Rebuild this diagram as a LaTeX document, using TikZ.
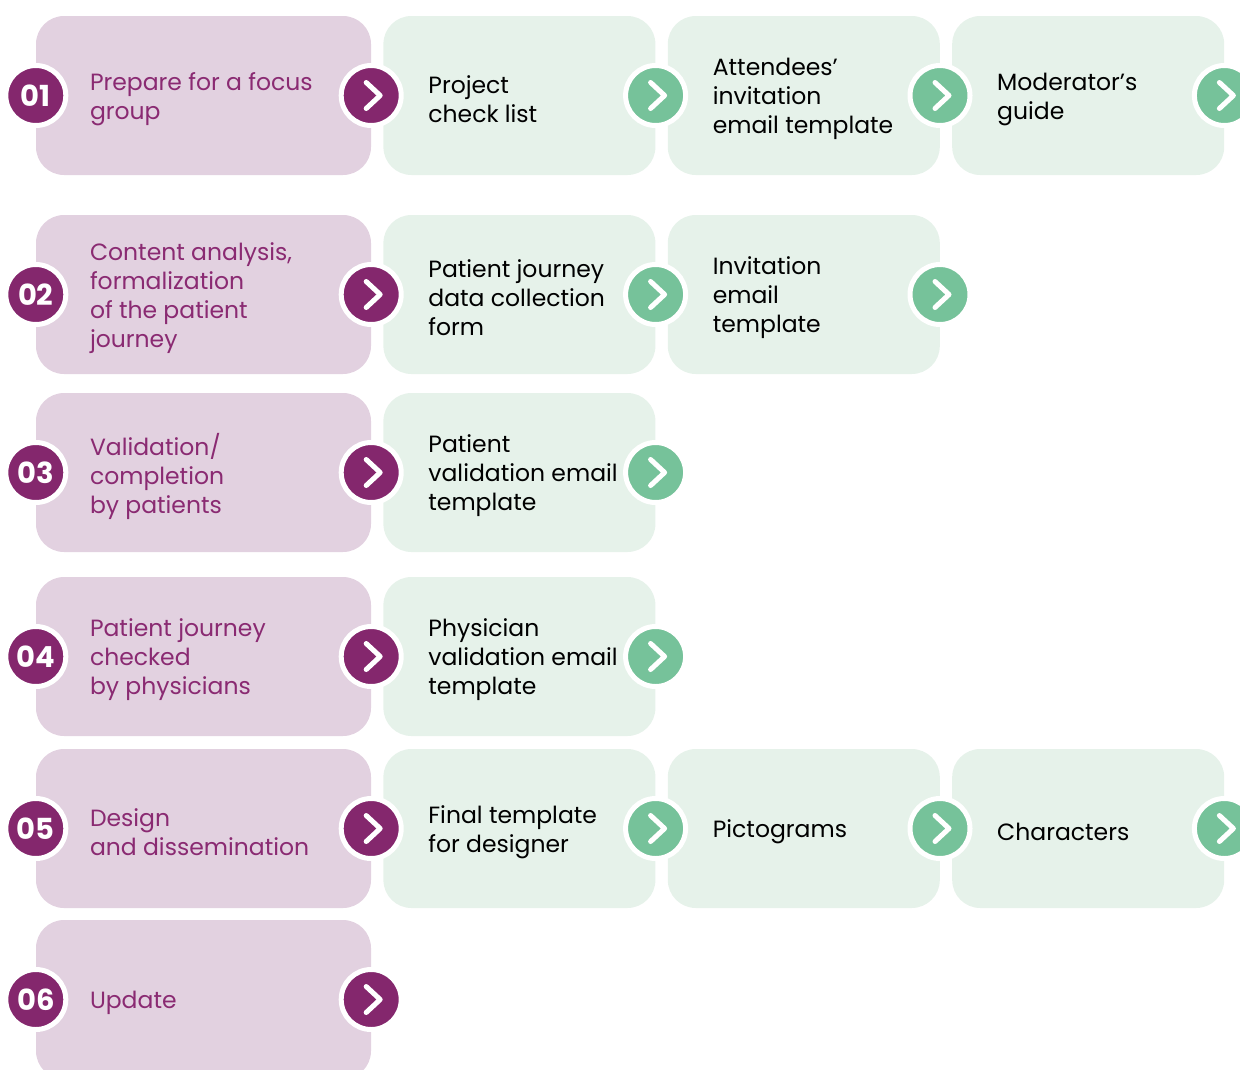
\documentclass[tikz,border=0pt]{standalone}
\usepackage{fontspec}
\setmainfont{Poppins}
\usetikzlibrary{positioning}
\definecolor{plum}{HTML}{84276D}
\definecolor{plumtext}{HTML}{8A2A72}
\definecolor{plumlight}{HTML}{E2D1E0}
\definecolor{mint}{HTML}{76C29A}
\definecolor{mintlight}{HTML}{E6F2EA}
\tikzset{
  stepbox/.style={rectangle, rounded corners=28pt, fill=plumlight, minimum width=335pt, minimum height=159pt, inner sep=0pt},
  docbox/.style={rectangle, rounded corners=28pt, fill=mintlight, minimum width=272pt, minimum height=159pt, inner sep=0pt},
  steptext/.style={align=left, inner sep=0pt, yshift=-3.5pt, text=plumtext, font=\fontsize{23.5}{29}\selectfont},
  doctext/.style={align=left, inner sep=0pt, yshift=-3.5pt, text=black, font=\fontsize{23.5}{29}\selectfont},
  numbadge/.style={circle, fill=plum, draw=white, line width=5pt, minimum size=60pt, inner sep=0pt, text=white, font=\fontsize{29}{29}\selectfont\bfseries},
  chevron/.style={path picture={\draw[white, line width=5pt, line cap=round, line join=round]
      ([shift={(-5pt,13pt)}]path picture bounding box.center) --
      ([shift={(9pt,0pt)}]path picture bounding box.center) --
      ([shift={(-5pt,-13pt)}]path picture bounding box.center);}},
  gostep/.style={circle, fill=plum, draw=white, line width=5pt, minimum size=60pt, inner sep=0pt, chevron},
  godoc/.style={gostep, fill=mint}
}
\begin{document}
\begin{tikzpicture}[x=1pt, y=-1pt, node distance=12pt]
  \useasboundingbox (0,0) rectangle (1240,1069);
  \clip (0,0) rectangle (1240,1069);

  % row 1
  \node (step1) [stepbox] at (203.5,95.5) {};
  \node (doc11) [docbox, right=of step1] {};
  \node (doc12) [docbox, right=of doc11] {};
  \node (doc13) [docbox, right=of doc12] {};
  \node (txt1) [steptext, right=54pt of step1.west] {Prepare for a focus\\group};
  \node (txt11) [doctext, right=45pt of doc11.west] {Project\\check list};
  \node (txt12) [doctext, right=45pt of doc12.west] {Attendees’\\invitation\\email template};
  \node (txt13) [doctext, right=45pt of doc13.west] {Moderator’s\\guide};
  \node (num1) [numbadge] at (step1.west) {01};
  \node (go1) [gostep] at (step1.east) {};
  \node (go11) [godoc] at (doc11.east) {};
  \node (go12) [godoc] at (doc12.east) {};
  \node (go13) [godoc] at (doc13.east) {};

  % row 2
  \node (step2) [stepbox] at (203.5,294.5) {};
  \node (doc21) [docbox, right=of step2] {};
  \node (doc22) [docbox, right=of doc21] {};
  \node (txt2) [steptext, right=54pt of step2.west] {Content analysis,\\formalization\\of the patient\\journey};
  \node (txt21) [doctext, right=45pt of doc21.west] {Patient journey\\data collection\\form};
  \node (txt22) [doctext, right=45pt of doc22.west] {Invitation\\email\\template};
  \node (num2) [numbadge] at (step2.west) {02};
  \node (go2) [gostep] at (step2.east) {};
  \node (go21) [godoc] at (doc21.east) {};
  \node (go22) [godoc] at (doc22.east) {};

  % row 3
  \node (step3) [stepbox] at (203.5,472.5) {};
  \node (doc31) [docbox, right=of step3] {};
  \node (txt3) [steptext, right=54pt of step3.west] {Validation/\\completion\\by patients};
  \node (txt31) [doctext, right=45pt of doc31.west] {Patient\\validation email\\template};
  \node (num3) [numbadge] at (step3.west) {03};
  \node (go3) [gostep] at (step3.east) {};
  \node (go31) [godoc] at (doc31.east) {};

  % row 4
  \node (step4) [stepbox] at (203.5,656.5) {};
  \node (doc41) [docbox, right=of step4] {};
  \node (txt4) [steptext, right=54pt of step4.west] {Patient journey\\checked\\by physicians};
  \node (txt41) [doctext, right=45pt of doc41.west] {Physician\\validation email\\template};
  \node (num4) [numbadge] at (step4.west) {04};
  \node (go4) [gostep] at (step4.east) {};
  \node (go41) [godoc] at (doc41.east) {};

  % row 5
  \node (step5) [stepbox] at (203.5,828.5) {};
  \node (doc51) [docbox, right=of step5] {};
  \node (doc52) [docbox, right=of doc51] {};
  \node (doc53) [docbox, right=of doc52] {};
  \node (txt5) [steptext, right=54pt of step5.west] {Design\\and dissemination};
  \node (txt51) [doctext, right=45pt of doc51.west] {Final template\\for designer};
  \node (txt52) [doctext, right=45pt of doc52.west] {Pictograms};
  \node (txt53) [doctext, right=45pt of doc53.west] {Characters};
  \node (num5) [numbadge] at (step5.west) {05};
  \node (go5) [gostep] at (step5.east) {};
  \node (go51) [godoc] at (doc51.east) {};
  \node (go52) [godoc] at (doc52.east) {};
  \node (go53) [godoc] at (doc53.east) {};

  % row 6
  \node (step6) [stepbox] at (203.5,999.5) {};
  \node (txt6) [steptext, right=54pt of step6.west] {Update};
  \node (num6) [numbadge] at (step6.west) {06};
  \node (go6) [gostep] at (step6.east) {};

\end{tikzpicture}
\end{document}
